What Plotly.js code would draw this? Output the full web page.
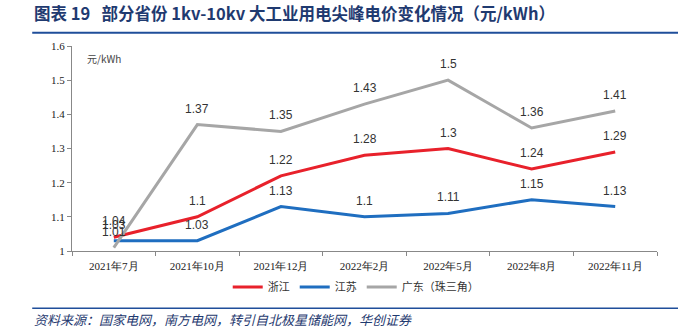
<!DOCTYPE html>
<html><head><meta charset="utf-8">
<script src="https://cdn.plot.ly/plotly-3.0.1.min.js"></script>
<style>body{margin:0;padding:0;background:#fff}#chart{width:678px;height:328px}</style>
</head><body><div id="chart"></div>
<script>
const categories = ["2021年7月","2021年10月","2021年12月","2022年2月","2022年5月","2022年8月","2022年11月"];
const zhejiang = [1.04, 1.1, 1.22, 1.28, 1.3, 1.24, 1.29];
const jiangsu = [1.03, 1.03, 1.13, 1.1, 1.11, 1.15, 1.13];
const guangdong = [1.01, 1.37, 1.35, 1.43, 1.5, 1.36, 1.41];
const seriesNames = ["浙江", "江苏", "广东（珠三角）"];
const colors = ["#E8212B", "#1F6EC0", "#A6A6A6"];

const allSeries = [zhejiang, jiangsu, guangdong];
const data = allSeries.map((y, k) => ({
  x: categories, y: y, name: seriesNames[k], type: "scatter", mode: "lines",
  line: {color: colors[k], width: 3}, cliponaxis: false
}));

const labelAnns = [];
allSeries.forEach(y => {
  y.forEach((v, i) => {
    labelAnns.push({x: categories[i], y: v, xref: "x", yref: "y", text: String(v), showarrow: false,
      yshift: 16, xanchor: "center", yanchor: "middle",
      font: {family: "Liberation Sans, Arial", size: 12, color: "#333"}});
  });
});

const layout = {
  width: 678, height: 328,
  margin: {l: 72, r: 21, t: 46, b: 77},
  paper_bgcolor: "#fff", plot_bgcolor: "#fff",
  showlegend: true,
  legend: {orientation: "h", x: 0.485, xanchor: "center", y: -0.176, yanchor: "middle",
    font: {family: "Noto Sans CJK SC", size: 11, color: "#333"}, itemwidth: 30, tracegroupgap: 0},
  xaxis: {type: "category", range: [-0.5, categories.length - 0.5], autorange: false,
    showgrid: false, zeroline: false, showline: true, linecolor: "#888", linewidth: 1,
    ticks: "outside", tickson: "boundaries", ticklen: 4, tickcolor: "#888", ticklabelstandoff: 5,
    tickfont: {family: "Liberation Serif, Times New Roman", size: 11, color: "#222"}},
  yaxis: {range: [1, 1.6], dtick: 0.1, showgrid: false, zeroline: false, showline: true, linecolor: "#888", linewidth: 1,
    ticks: "outside", ticklen: 4, tickcolor: "#888",
    tickfont: {family: "Liberation Serif, Times New Roman", size: 11, color: "#222"}},
  annotations: labelAnns.concat([
    {text: "<b>图表 19   部分省份 1kv-10kv 大工业用电尖峰电价变化情况（元/kWh）</b>", xref: "paper", yref: "paper",
     x: -0.068, y: 1.161, xanchor: "left", yanchor: "middle", showarrow: false,
     font: {family: "Noto Sans CJK SC", size: 16.5, color: "#1F3A70"}},
    {text: "元/kWh", xref: "paper", yref: "paper", x: 0.022, y: 0.94, xanchor: "left", yanchor: "middle", showarrow: false,
     font: {family: "Noto Sans CJK SC", size: 10, color: "#444"}},
    {text: "<i>资料来源：国家电网，南方电网，转引自北极星储能网，华创证券</i>", xref: "paper", yref: "paper",
     x: -0.068, y: -0.333, xanchor: "left", yanchor: "middle", showarrow: false,
     font: {family: "Noto Sans CJK SC", size: 13, color: "#1F3A70"}}
  ]),
  shapes: [
    {type: "line", xref: "paper", yref: "paper", x0: -0.068, x1: 1.04, y0: 1.065, y1: 1.065, line: {color: "#1F4E9A", width: 2}},
    {type: "line", xref: "paper", yref: "paper", x0: -0.068, x1: 1.04, y0: -0.279, y1: -0.279, line: {color: "#1F4E9A", width: 1.5}}
  ]
};
Plotly.newPlot("chart", data, layout, {displayModeBar: false, staticPlot: true});
</script></body></html>
